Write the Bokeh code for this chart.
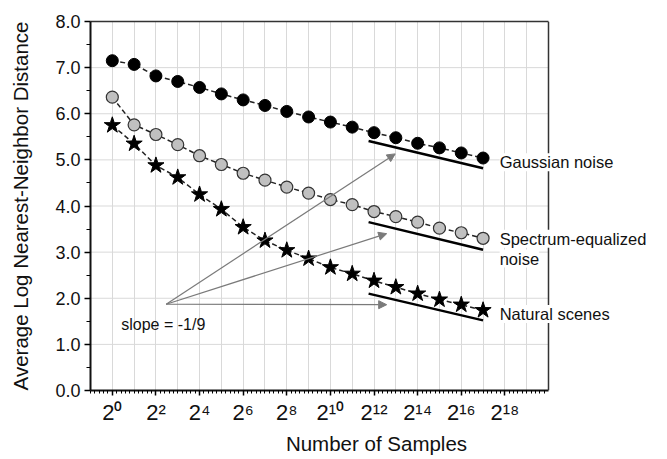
from bokeh.plotting import figure
from bokeh.models import (FixedTicker, PrintfTickFormatter, Label, Arrow, NormalHead,
                          LinearAxis, Range1d, Span)
from bokeh.embed import file_html
from bokeh.resources import INLINE

# ---------------- data ----------------
exponents = list(range(0, 18))
gaussian = [7.15, 7.07, 6.82, 6.70, 6.57, 6.43, 6.30, 6.18, 6.05, 5.93,
            5.82, 5.71, 5.59, 5.48, 5.36, 5.26, 5.15, 5.04]
spectrum = [6.36, 5.76, 5.55, 5.33, 5.09, 4.90, 4.71, 4.56, 4.41, 4.28,
            4.14, 4.03, 3.88, 3.77, 3.65, 3.52, 3.42, 3.30]
natural = [5.75, 5.35, 4.88, 4.62, 4.25, 3.93, 3.54, 3.25, 3.04, 2.86,
           2.67, 2.53, 2.38, 2.24, 2.10, 1.97, 1.86, 1.74]

# reference slope lines (slope = -1/9)
ref_x = [11.75, 17.0]
ref_gaussian = [5.41, 4.82]
ref_spectrum = [3.65, 3.05]
ref_natural = [2.10, 1.52]

# arrows from the "slope" note to the reference lines
arrow_origin = (2.47, 1.87)
arrow_tips = [(12.97, 5.13), (12.58, 3.40), (12.58, 1.86)]

x_tick_values = [0, 2, 4, 6, 8, 10, 12, 14, 16, 18]
x_tick_labels = ["2⁰", "2²", "2⁴", "2⁶", "2⁸", "2¹⁰", "2¹²", "2¹⁴", "2¹⁶", "2¹⁸"]
y_tick_values = [0, 1, 2, 3, 4, 5, 6, 7, 8]

X_MIN, X_MAX = -1, 20          # axis box extent
FONT = "Liberation Sans"

# frame is widened to the right so the series labels can sit past the box edge
FRAME_LEFT, FRAME_RIGHT_BORDER = 90, 5
frame_w = 667 - FRAME_LEFT - FRAME_RIGHT_BORDER
px_per_unit = 458 / (X_MAX - X_MIN)
x_end = X_MIN + frame_w / px_per_unit

p = figure(width=667, height=459, x_range=Range1d(X_MIN, x_end), y_range=Range1d(0, 8),
           output_backend="svg", toolbar_location=None,
           min_border_left=FRAME_LEFT, min_border_right=FRAME_RIGHT_BORDER,
           min_border_top=21, min_border_bottom=69)
p.outline_line_color = None
p.background_fill_color = "white"
p.border_fill_color = "white"

# grids
p.xgrid.ticker = FixedTicker(ticks=list(range(0, 20)))
p.xgrid.grid_line_color = "#d9d9d9"
p.xgrid.grid_line_width = 1
p.ygrid.visible = False
p.segment(x0=X_MIN, x1=X_MAX, y0=y_tick_values[1:-1], y1=y_tick_values[1:-1],
          line_color="#d9d9d9", line_width=1)

# x axis
xa = p.xaxis[0]
minor_x = [i / 5 for i in range(-5, 100) if i % 10 != 0]
xa.ticker = FixedTicker(ticks=x_tick_values, minor_ticks=minor_x)
xa.bounds = (X_MIN, X_MAX)
xa.major_label_overrides = {v: l for v, l in zip(x_tick_values, x_tick_labels)}
xa.axis_line_width = 2
xa.axis_line_color = "#111"
xa.major_tick_out = 5
xa.major_tick_in = 0
xa.minor_tick_out = 3
xa.minor_tick_in = 0
xa.major_tick_line_width = 1.5
xa.major_label_text_font = FONT
xa.major_label_text_font_size = "22px"
xa.major_label_text_color = "#111"
xa.major_label_standoff = 4
xa.axis_label = "Number of Samples"
xa.axis_label_text_font = FONT
xa.axis_label_text_font_size = "20.5px"
xa.axis_label_text_font_style = "normal"
xa.axis_label_text_color = "#111"
xa.axis_label_standoff = 4

# y axis
ya = p.yaxis[0]
ya.ticker = FixedTicker(ticks=y_tick_values, minor_ticks=[v + 0.5 for v in range(0, 8)])
ya.formatter = PrintfTickFormatter(format="%.1f")
ya.axis_line_width = 2
ya.axis_line_color = "#111"
ya.major_tick_out = 6
ya.major_tick_in = 0
ya.minor_tick_out = 4
ya.minor_tick_in = 0
ya.major_tick_line_width = 1.5
ya.major_label_text_font = FONT
ya.major_label_text_font_size = "18px"
ya.major_label_text_color = "#111"
ya.major_label_standoff = 4
ya.axis_label = "Average Log Nearest-Neighbor Distance"
ya.axis_label_text_font = FONT
ya.axis_label_text_font_size = "20.5px"
ya.axis_label_text_font_style = "normal"
ya.axis_label_text_color = "#111"
ya.axis_label_standoff = 20

# top frame line
top = LinearAxis(ticker=FixedTicker(ticks=[]), axis_line_color="#333", bounds=(X_MIN, X_MAX),
                 axis_line_width=1.5, major_tick_out=0, minor_tick_out=0,
                 major_label_text_font_size="0px")
p.add_layout(top, "above")
# right frame line
p.add_layout(Span(location=X_MAX, dimension="height", line_color="#333", line_width=1.5))

# reference slope lines
for ys in (ref_gaussian, ref_spectrum, ref_natural):
    p.line(ref_x, ys, line_color="black", line_width=2.5)

# arrows
for tx, ty in arrow_tips:
    p.add_layout(Arrow(x_start=arrow_origin[0], y_start=arrow_origin[1], x_end=tx, y_end=ty,
                       line_color="#7a7a7a", line_width=1.2,
                       end=NormalHead(size=8, fill_color="#7a7a7a", line_color="#7a7a7a")))

# series
dash = "5 3"
p.line(exponents, gaussian, line_color="#222", line_width=1.5, line_dash=dash)
p.line(exponents, spectrum, line_color="#222", line_width=1.5, line_dash=dash)
p.line(exponents, natural, line_color="#222", line_width=1.5, line_dash=dash)
p.scatter(exponents, gaussian, marker="circle", size=12, fill_color="black",
          line_color="black", line_width=1)
p.scatter(exponents, spectrum, marker="circle", size=12, fill_color="#c0c0c0",
          line_color="#333", line_width=1.2)
p.scatter(exponents, natural, marker="star", size=17, fill_color="black",
          line_color="black", line_width=1)

# labels
def lab(x, y, text):
    p.add_layout(Label(x=x, y=y, text=text, text_font=FONT, text_font_size="16.5px",
                       text_color="#111", text_baseline="middle", text_align="left",
                       background_fill_color="white"))

lab(17.76, 4.95, "Gaussian noise")
lab(17.76, 3.29, "Spectrum-equalized")
lab(17.76, 2.86, "noise")
lab(17.76, 1.66, "Natural scenes")
p.add_layout(Label(x=0.41, y=1.43, text="slope = -1/9", text_font=FONT, text_font_size="16px",
                   text_color="#111", text_baseline="middle", text_align="left"))

open("out.html", "w").write(file_html(p, INLINE))
